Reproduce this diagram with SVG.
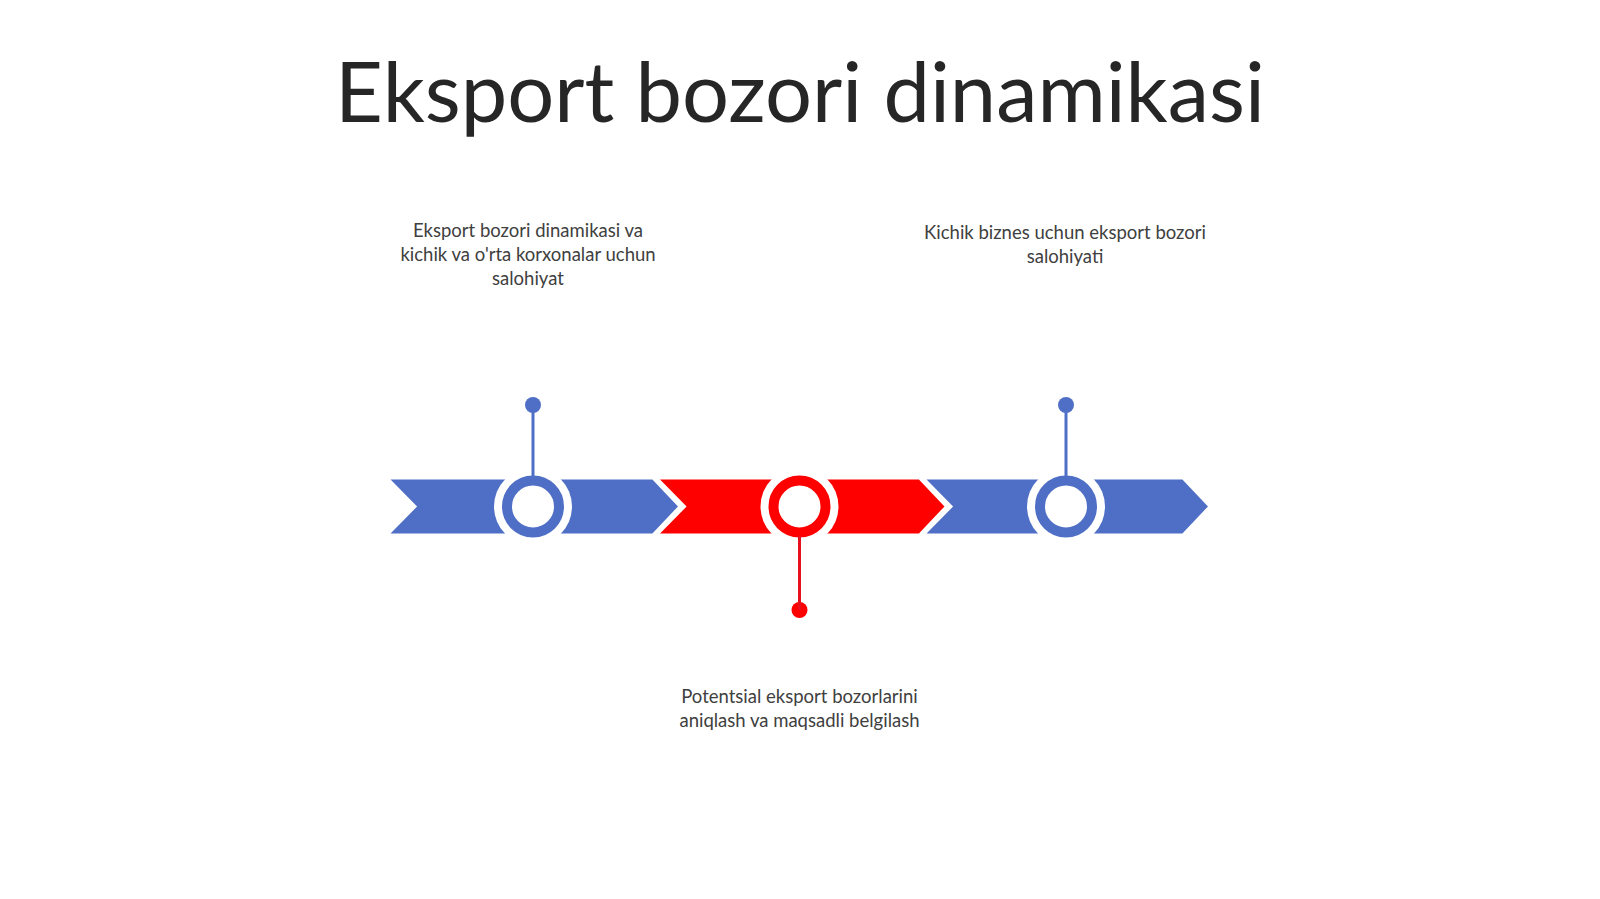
<svg xmlns="http://www.w3.org/2000/svg" width="1600" height="899" viewBox="0 0 1600 899">
<style>
.t{font-family:Lato,"Open Sans","Liberation Sans",sans-serif;fill:#404040;text-anchor:middle}
.title{font-size:83px;fill:#262626}
.lbl{font-size:18.5px}
.blue{fill:#4F6FC6}
.red{fill:#FF0000}
.chev{stroke:#fff;stroke-width:3;stroke-linejoin:miter}
.halo{fill:#fff}
.ringB{fill:none;stroke:#4F6FC6;stroke-width:10}
.ringR{fill:none;stroke:#FF0000;stroke-width:10}
.stemB{stroke:#4F6FC6;stroke-width:3}
.stemR{stroke:#E8101E;stroke-width:3}
</style>
<rect width="1600" height="899" fill="#fff"/>
<text class="t title" x="800" y="122">Eksport bozori dinamikasi</text>
<g id="node1">
<polygon class="blue chev" points="387,478 653,478 680,506.5 653,535 387,535 415,506.5"/>
<circle class="halo" cx="533" cy="506.5" r="39"/>
<circle class="ringB" cx="533" cy="506.5" r="26"/>
<circle class="blue" cx="533" cy="405" r="8"/>
<text class="t lbl"><tspan x="528" y="237">Eksport bozori dinamikasi va</tspan><tspan x="528" y="261">kichik va o'rta korxonalar uchun</tspan><tspan x="528" y="285">salohiyat</tspan></text>
</g>
<g id="node2">
<polygon class="red chev" points="656.5,478 919.5,478 946.5,506.5 919.5,535 656.5,535 684.5,506.5"/>
<circle class="halo" cx="799.5" cy="506.5" r="39"/>
<circle class="ringR" cx="799.5" cy="506.5" r="26"/>
<circle class="red" cx="799.5" cy="610" r="8"/>
<text class="t lbl"><tspan x="799.5" y="703">Potentsial eksport bozorlarini</tspan><tspan x="799.5" y="727">aniqlash va maqsadli belgilash</tspan></text>
</g>
<g id="node3">
<polygon class="blue chev" points="923,478 1183,478 1210,506.5 1183,535 923,535 951,506.5"/>
<circle class="halo" cx="1066" cy="506.5" r="39"/>
<circle class="ringB" cx="1066" cy="506.5" r="26"/>
<circle class="blue" cx="1066" cy="405" r="8"/>
<text class="t lbl"><tspan x="1065" y="239">Kichik biznes uchun eksport bozori</tspan><tspan x="1065" y="263">salohiyati</tspan></text>
</g>
<g id="connectors">
<line class="stemB" x1="533" y1="405" x2="533" y2="477"/>
<line class="stemR" x1="799.5" y1="536" x2="799.5" y2="610"/>
<line class="stemB" x1="1066" y1="405" x2="1066" y2="477"/>
</g>
</svg>
